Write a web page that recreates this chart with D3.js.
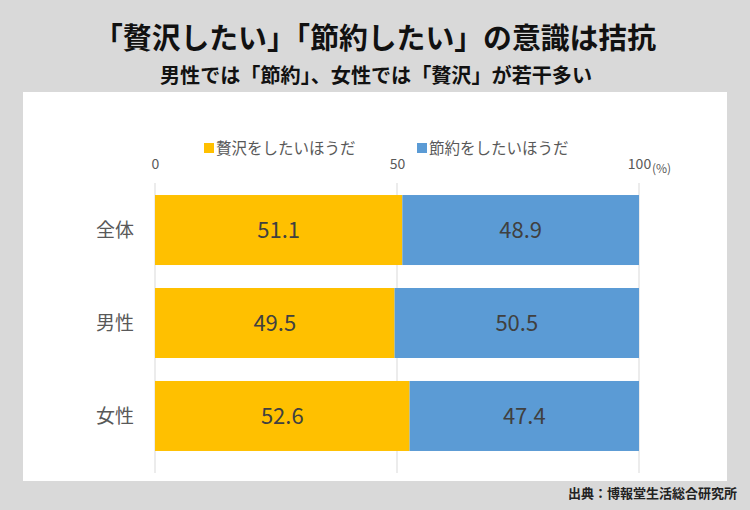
<!DOCTYPE html>
<html><head><meta charset="utf-8">
<script src="https://cdn.jsdelivr.net/npm/d3@7"></script>
<style>body{margin:0;background:#d9d9d9;}svg{display:block;}</style>
</head><body>
<svg id="c" width="750" height="510"></svg>
<script>
const categories = ["全体", "男性", "女性"];
const seriesNames = ["贅沢をしたいほうだ", "節約をしたいほうだ"];
const luxury = [51.1, 49.5, 52.6];
const saving = [48.9, 50.5, 47.4];
const tickValues = [0, 50, 100];
const title = "「贅沢したい」「節約したい」の意識は拮抗";
const subtitle = "男性では「節約」、女性では「贅沢」が若干多い";
const source = "出典：博報堂生活総合研究所";
const colors = ["#FFC000", "#5B9BD5"];

const font = "'Noto Sans CJK JP','Noto Sans',sans-serif";
const svg = d3.select("#c").style("font-family", font);
svg.append("rect").attr("width",750).attr("height",510).attr("fill","#d9d9d9");
svg.append("rect").attr("x",23).attr("y",92).attr("width",704).attr("height",389).attr("fill","#ffffff");

svg.append("text").attr("x",375).attr("y",49).attr("text-anchor","middle")
  .attr("font-size",29).attr("font-weight","bold").attr("fill","#111")
  .attr("textLength",562).attr("lengthAdjust","spacingAndGlyphs").text(title);
svg.append("text").attr("x",376).attr("y",83).attr("text-anchor","middle")
  .attr("font-size",20).attr("font-weight","bold").attr("fill","#111")
  .attr("textLength",432).attr("lengthAdjust","spacingAndGlyphs").text(subtitle);

const x = d3.scaleLinear().domain([0,100]).range([155,639]);
const y = d3.scaleBand().domain(categories).range([183.5,462.5]).paddingInner(23/93).paddingOuter(0.124);

// gridlines
svg.append("g").selectAll("line").data(tickValues).join("line")
  .attr("x1",d=>x(d)).attr("x2",d=>x(d)).attr("y1",183).attr("y2",473)
  .attr("stroke","#d9d9d9").attr("stroke-width",1);

// tick labels via axis
const ax = svg.append("g").attr("transform","translate(0,169)")
  .call(d3.axisTop(x).tickValues(tickValues).tickSize(0).tickPadding(0));
ax.select(".domain").remove();
ax.selectAll("text").attr("font-size",14).attr("fill","#595959").attr("font-family",font);
svg.append("text").attr("x",652).attr("y",173).attr("font-size",12).attr("fill","#595959").text("(%)");

const stacked = categories.map((c,i)=>[{k:0,c,x0:0,x1:luxury[i],v:luxury[i]},{k:1,c,x0:luxury[i],x1:luxury[i]+saving[i],v:saving[i]}]).flat();
const bh = 70;
const yb = c => y(c) + y.bandwidth()/2 - bh/2;
svg.append("g").selectAll("rect").data(stacked).join("rect")
  .attr("x",d=>x(d.x0)).attr("width",d=>x(d.x1)-x(d.x0))
  .attr("y",d=>yb(d.c)).attr("height",bh).attr("fill",d=>colors[d.k]);
svg.append("g").selectAll("text").data(stacked).join("text")
  .attr("x",d=>(x(d.x0)+x(d.x1))/2).attr("y",d=>yb(d.c)+bh/2+8)
  .attr("text-anchor","middle").attr("font-size",22).attr("fill","#404040")
  .text(d=>d.v.toFixed(1));

// category labels
svg.append("g").selectAll("text").data(categories).join("text")
  .attr("x",115).attr("y",c=>y(c)+y.bandwidth()/2+7).attr("text-anchor","middle")
  .attr("font-size",19).attr("fill","#595959").text(c=>c);

// legend
const legX = [204, 417];
seriesNames.forEach((s,i)=>{
  svg.append("rect").attr("x",legX[i]).attr("y",143).attr("width",10).attr("height",10).attr("fill",colors[i]);
  svg.append("text").attr("x",legX[i]+12).attr("y",154).attr("font-size",15.5).attr("fill","#595959").text(s);
});

svg.append("text").attr("x",737).attr("y",498).attr("text-anchor","end")
  .attr("font-size",13).attr("font-weight","bold").attr("fill","#222").text(source);
</script>
</body></html>
